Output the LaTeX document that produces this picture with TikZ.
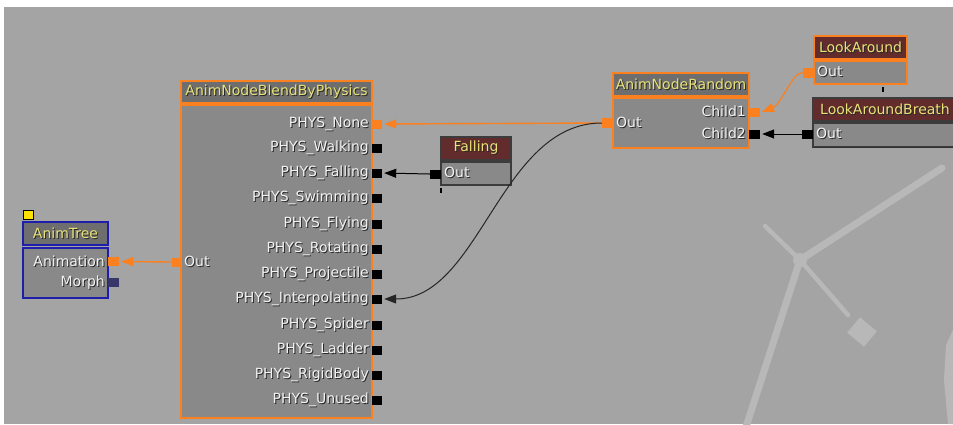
\documentclass[tikz,border=0pt]{standalone}
\usepackage{fontspec}
\setmainfont{DejaVu Sans}
\usetikzlibrary{arrows.meta}
\definecolor{bg}{RGB}{164,164,164}
\definecolor{bodyc}{RGB}{137,137,137}
\definecolor{titlec}{RGB}{110,110,110}
\definecolor{redc}{RGB}{99,44,44}
\definecolor{orng}{RGB}{250,128,32}
\definecolor{blu}{RGB}{30,30,170}
\definecolor{morphc}{RGB}{55,55,105}
\definecolor{ylw}{RGB}{232,226,120}
\definecolor{lblc}{RGB}{242,242,242}
\definecolor{shd}{RGB}{40,40,40}
\definecolor{darkb}{RGB}{60,60,60}
\definecolor{ghost}{RGB}{184,184,184}
\newcommand\sht[1]{\makebox[0pt][l]{\hspace{1bp}\raisebox{-1bp}{\color{shd}#1}}#1}
\tikzset{
  txtfont/.style={font=\fontsize{14bp}{16bp}\selectfont},
  tbox/.style={draw, line width=1.3bp, inner sep=0pt, text=ylw, txtfont},
  bbox/.style={draw, line width=1.3bp, inner sep=0pt, fill=bodyc},
  lab/.style={inner sep=0pt, text=lblc, txtfont},
  sq/.style={inner sep=0pt, minimum width=10bp, minimum height=9bp},
  con/.style={line width=1bp, -{Triangle[length=12bp,width=9bp]}, shorten >=2bp},
  ghostline/.style={ghost, line cap=round}
}
\begin{document}
\begin{tikzpicture}[x=1bp,y=-1bp]
\useasboundingbox (0,0) rectangle (953,424);
\clip (0,0) rectangle (953,424);
\fill[white] (0,0) rectangle (953,424);
\fill[bg] (4,7) rectangle (953,424);
% faint background shapes
\draw[ghostline, line width=7bp] (942,168) -- (800,260) -- (745,430);
\draw[ghostline, line width=4.5bp] (765,226) -- (800,260) -- (848,315);
\fill[ghost] (800,260) circle (7bp);
\fill[ghost, rotate around={-40:(862,332)}] (851,322) rectangle (873,342);
\fill[ghost] (953,330) -- (946,345) -- (944,380) -- (948,424) -- (953,424) -- cycle;

% AnimTree
\node[sq, fill=yellow!85!orange, draw=black, line width=0.8bp] (atmark) at (28,214.5) {};
\node[tbox, fill=titlec, draw=blu, minimum width=85bp, minimum height=23bp] (attitle) at (65.5,233.5) {\sht{AnimTree}};
\node[bbox, draw=blu, minimum width=85bp, minimum height=50bp] (atbody) at (65.5,273) {};
\node[lab, anchor=east] (atanim) at (105,262) {\sht{Animation}};
\node[lab, anchor=east] (atmorph) at (105,283) {\sht{Morph}};
\node[sq, fill=orng, minimum width=11bp] (atanimsq) at (113.5,261.5) {};
\node[sq, fill=morphc, minimum width=11bp] (atmorphsq) at (113.5,282.5) {};

% AnimNodeBlendByPhysics
\node[tbox, fill=titlec, draw=orng, minimum width=191bp, minimum height=22bp] (btitle) at (276.5,92) {\sht{AnimNodeBlendByPhysics}};
\node[bbox, draw=orng, minimum width=191bp, minimum height=313bp] (bbody) at (276.5,261.5) {};
\node[lab, anchor=west] (boutl) at (184,262) {\sht{Out}};
\node[sq, fill=orng] (bout) at (176.5,262) {};
\node[lab, anchor=east] (lNone) at (369,124) {\sht{PHYS\_None}};
\node[sq, fill=orng] (sNone) at (377,124) {};
\foreach \n/\y in {Walking/148, Falling/173, Swimming/198, Flying/224, Rotating/249, Projectile/274, Interpolating/299, Spider/325, Ladder/350, RigidBody/375, Unused/400}{
  \node[lab, anchor=east] (l\n) at (369,\y) {\sht{PHYS\_\n}};
  \node[sq, fill=black] (s\n) at (377,\y) {};
}

% Falling
\node[tbox, fill=redc, draw=darkb, minimum width=70bp, minimum height=23bp] (ftitle) at (476,148.5) {\sht{Falling}};
\node[bbox, draw=darkb, minimum width=70bp, minimum height=23bp] (fbody) at (476,173.5) {};
\node[lab, anchor=west] (foutl) at (444,173) {\sht{Out}};
\node[sq, fill=black, minimum width=11bp] (fout) at (435.5,174) {};
\draw[line width=1.5bp] (441,188) -- (441,193);

% AnimNodeRandom
\node[tbox, fill=titlec, draw=orng, minimum width=136bp, minimum height=23bp] (rtitle) at (681,84.5) {\sht{AnimNodeRandom}};
\node[bbox, draw=orng, minimum width=136bp, minimum height=50bp] (rbody) at (681,123) {};
\node[lab, anchor=west] (routl) at (616,123) {\sht{Out}};
\node[sq, fill=orng, minimum width=11bp, minimum height=10bp] (rout) at (607.5,123) {};
\node[lab, anchor=east] (c1l) at (746,112) {\sht{Child1}};
\node[lab, anchor=east] (c2l) at (746,134) {\sht{Child2}};
\node[sq, fill=orng, minimum width=11bp] (c1sq) at (754.5,112.5) {};
\node[sq, fill=black, minimum width=11bp] (c2sq) at (754.5,134) {};

% LookAround
\node[tbox, fill=redc, draw=orng, minimum width=93bp, minimum height=23bp] (latitle) at (860.5,47.5) {\sht{LookAround}};
\node[bbox, draw=orng, minimum width=93bp, minimum height=23bp] (labody) at (860.5,72.5) {};
\node[lab, anchor=west] (laoutl) at (817,72) {\sht{Out}};
\node[sq, fill=orng, minimum width=11bp, minimum height=10bp] (laout) at (808.5,72.5) {};
\draw[line width=1.5bp] (883,87) -- (883,92);

% LookAroundBreath
\node[tbox, fill=redc, draw=darkb, minimum width=144bp, minimum height=23bp] (labtitle) at (885,109.5) {\sht{LookAroundBreath}};
\node[bbox, draw=darkb, minimum width=144bp, minimum height=24bp] (labbody) at (885,135) {};
\draw[line width=1.5bp, black!80] (labbody.south west) -- (labbody.south east);
\node[lab, anchor=west] (laboutl) at (816,134) {\sht{Out}};
\node[sq, fill=black, minimum width=11bp] (labout) at (807.5,134) {};

% connectors
\draw[con, orng, line width=1.4bp] (bout.west) -- (atanimsq.east);
\draw[con, orng, line width=1.4bp] (rout.west) -- (sNone.east);
\draw[con, black!85] (rout.west) .. controls (500,123) and (480,299) .. (sInterpolating.east);
\draw[con] (fout.west) -- (sFalling.east);
\draw[con, orng, line width=1.2bp] (laout.west) .. controls (792,72) and (782,104) .. (c1sq.east);
\draw[con] (labout.west) -- (c2sq.east);
\end{tikzpicture}
\end{document}
